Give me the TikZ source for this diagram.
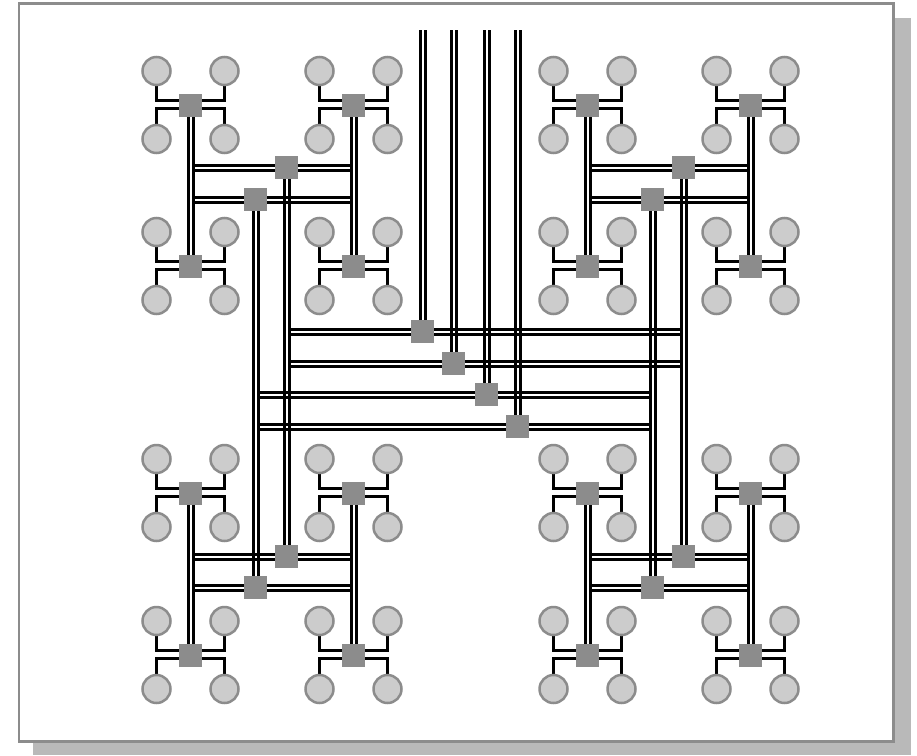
\documentclass[tikz,border=0pt]{standalone}
\usepackage{xcolor}
\usepackage{tikz}
\usetikzlibrary{backgrounds}

\definecolor{linegray}{HTML}{8C8C8C}
\definecolor{hostgray}{HTML}{CCCCCC}
\definecolor{shadowgray}{HTML}{B9B9B9}

\tikzset{
    host/.style={draw=linegray, fill=hostgray, circle, line width=2.5pt, minimum size=28pt, inner sep=0pt},
    switchbox/.style={fill=linegray, rectangle, minimum size=23pt, inner sep=0pt},
    wire/.style={draw=black, line width=2.8pt},
    panel/.style={draw=linegray, fill=white, line width=2.5pt}
}

% two parallel lines between two nodes, or from a node across to the column of another
\newcommand{\vlink}[2]{
    \draw[wire] ([xshift=-2pt]#1.center) -- ([xshift=-2pt]#2.center);
    \draw[wire] ([xshift=3pt]#1.center) -- ([xshift=3pt]#2.center);
}
\newcommand{\hlink}[2]{
    \draw[wire, shorten >=2.5pt] ([yshift=2pt]#1.center) -- ([yshift=2pt]#1.center -| #2.center);
    \draw[wire, shorten >=2.5pt] ([yshift=-3pt]#1.center) -- ([yshift=-3pt]#1.center -| #2.center);
}

\begin{document}
\begin{tikzpicture}[x=1pt, y=-1pt]
    \useasboundingbox (0,0) rectangle (917,755);
    \begin{scope}[on background layer]
        \fill[shadowgray] (33,18) rectangle (911,755);
        \draw[panel] (19,3.5) rectangle (893.5,741.5);
    \end{scope}

    % one block per corner: four leaf switches with their hosts, two middle switches
    \foreach \qx/\qn in {0/l, 397/r} {
        \foreach \qm/\ya/\yb/\yc/\yd in {t/105.5/266.5/167.5/199.5, b/493.5/655.5/556.5/587.5} {
            \foreach \cx/\cn in {190.5/a, 353.5/b} {
                \foreach \cy/\cm in {\ya/a, \yb/b} {
                    \node[switchbox] (leaf-\qn\qm-\cn\cm) at (\qx+\cx,\cy) {};
                    \node[host] (host-\qn\qm-\cn\cm-1) at (\qx+\cx-34,\cy-34.5) {};
                    \node[host] (host-\qn\qm-\cn\cm-2) at (\qx+\cx+34,\cy-34.5) {};
                    \node[host] (host-\qn\qm-\cn\cm-3) at (\qx+\cx-34,\cy+33.5) {};
                    \node[host] (host-\qn\qm-\cn\cm-4) at (\qx+\cx+34,\cy+33.5) {};
                    \begin{scope}[on background layer]
                        \draw[wire] (host-\qn\qm-\cn\cm-1) |- ([yshift=5pt]leaf-\qn\qm-\cn\cm.center);
                        \draw[wire] (host-\qn\qm-\cn\cm-2) |- ([yshift=5pt]leaf-\qn\qm-\cn\cm.center);
                        \draw[wire] (host-\qn\qm-\cn\cm-3) |- ([yshift=-3pt]leaf-\qn\qm-\cn\cm.center);
                        \draw[wire] (host-\qn\qm-\cn\cm-4) |- ([yshift=-3pt]leaf-\qn\qm-\cn\cm.center);
                    \end{scope}
                }
            }
            \node[switchbox] (mid-\qn\qm-a) at (\qx+286.5,\yc) {};
            \node[switchbox] (mid-\qn\qm-b) at (\qx+255.5,\yd) {};
            \begin{scope}[on background layer]
                \vlink{leaf-\qn\qm-aa}{leaf-\qn\qm-ab}
                \vlink{leaf-\qn\qm-ba}{leaf-\qn\qm-bb}
                \foreach \mn in {a, b} {
                    \hlink{mid-\qn\qm-\mn}{leaf-\qn\qm-aa}
                    \hlink{mid-\qn\qm-\mn}{leaf-\qn\qm-ba}
                }
            \end{scope}
        }
    }

    % top switches with their free ends
    \node[switchbox] (top-a) at (422.5,331.5) {};
    \node[switchbox] (top-b) at (453.5,363.5) {};
    \node[switchbox] (top-c) at (486.5,394.5) {};
    \node[switchbox] (top-d) at (517.5,426.5) {};
    \foreach \tn/\tx in {a/422.5, b/453.5, c/486.5, d/517.5} {
        \coordinate (end-\tn) at (\tx,30);
    }

    \begin{scope}[on background layer]
        \foreach \tn in {a, b, c, d} {
            \vlink{end-\tn}{top-\tn}
        }
        \foreach \qn in {l, r} {
            \vlink{mid-\qn t-a}{mid-\qn b-a}
            \vlink{mid-\qn t-b}{mid-\qn b-b}
        }
        \foreach \tn/\mn in {a/a, b/a, c/b, d/b} {
            \hlink{top-\tn}{mid-lt-\mn}
            \hlink{top-\tn}{mid-rt-\mn}
        }
    \end{scope}
\end{tikzpicture}
\end{document}
